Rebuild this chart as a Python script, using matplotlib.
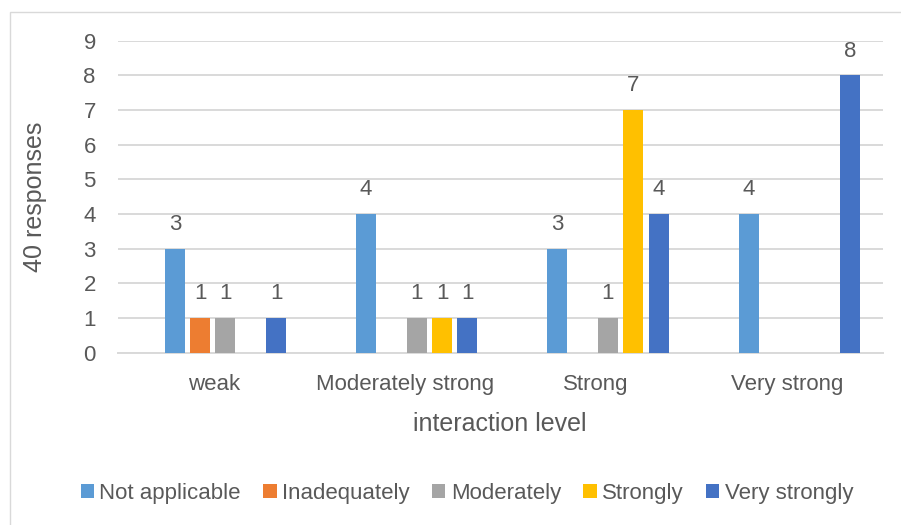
import matplotlib
matplotlib.use("Agg")
import matplotlib.pyplot as plt
from matplotlib.patches import Rectangle
from matplotlib import font_manager
import numpy as np

categories = ["weak", "Moderately strong", "Strong", "Very strong"]
series_names = ["Not applicable", "Inadequately", "Moderately", "Strongly", "Very strongly"]
not_applicable = [3, 4, 3, 4]
inadequately = [1, 0, 0, 0]
moderately = [1, 1, 1, 0]
strongly = [0, 1, 7, 0]
very_strongly = [1, 1, 4, 8]
series_values = [not_applicable, inadequately, moderately, strongly, very_strongly]
colors = ["#5B9BD5", "#ED7D31", "#A5A5A5", "#FFC000", "#4472C4"]
y_ticks = list(range(0, 10))

available = {f.name for f in font_manager.fontManager.ttflist}
family = [f for f in ["Liberation Sans", "DejaVu Sans"] if f in available]
plt.rcParams["font.family"] = family
text_color = "#595959"
grid_color = "#D9D9D9"

fig = plt.figure(figsize=(9.01, 5.25), dpi=100)
W, H = 901, 525

# chart frame (runs past the right and bottom edges)
fig.patches.append(Rectangle((9.5 / W, -0.2), 1.2, 1.2 - 11.5 / H, transform=fig.transFigure,
                             fill=False, edgecolor=grid_color, linewidth=1.0))

ax = fig.add_axes([118 / W, 1 - 352.7 / H, (883 - 118) / W, (352.7 - 40.7) / H])
ax.set_ylim(0, 9)
ax.set_xlim(-0.5, 3.5)

x = np.arange(len(categories))
pitch = 0.1322
width = 0.1045
shift = 0.062
for j, (name, vals, col) in enumerate(zip(series_names, series_values, colors)):
    xpos = x + (j - 2) * pitch + shift
    ax.bar(xpos, vals, width=width, color=col, label=name, zorder=3)
    for xp, v in zip(xpos, vals):
        if v > 0:
            ax.annotate(str(v), (xp, v), xytext=(0, 17.5), textcoords="offset points",
                        ha="center", va="center", fontsize=16, color=text_color)

ax.set_yticks(y_ticks)
ax.yaxis.grid(True, color=grid_color, linewidth=1.4, zorder=0)
ax.set_axisbelow(True)
for s in ["top", "right", "left"]:
    ax.spines[s].set_visible(False)
ax.spines["bottom"].set_color(grid_color)
ax.spines["bottom"].set_linewidth(1.4)
ax.tick_params(axis="y", length=0, pad=16, labelsize=16, labelcolor=text_color)
ax.tick_params(axis="x", length=0, pad=15, labelsize=16, labelcolor=text_color)
ax.set_xticks(x)
ax.set_xticklabels(categories)

fig.text(35 / W, 1 - 197 / H, "40 responses", rotation=90, ha="center", va="center",
         fontsize=18, color=text_color)
fig.text(500 / W, 1 - 424 / H, "interaction level", ha="center", va="center",
         fontsize=18, color=text_color)

fig.legend(loc="center", bbox_to_anchor=(467 / W, 1 - 493 / H), ncol=5,
           frameon=False, fontsize=16, handlelength=0.6, handleheight=0.6,
           handletextpad=0.25, columnspacing=1.0, labelcolor=text_color)

fig.savefig("out.png", dpi=100)
